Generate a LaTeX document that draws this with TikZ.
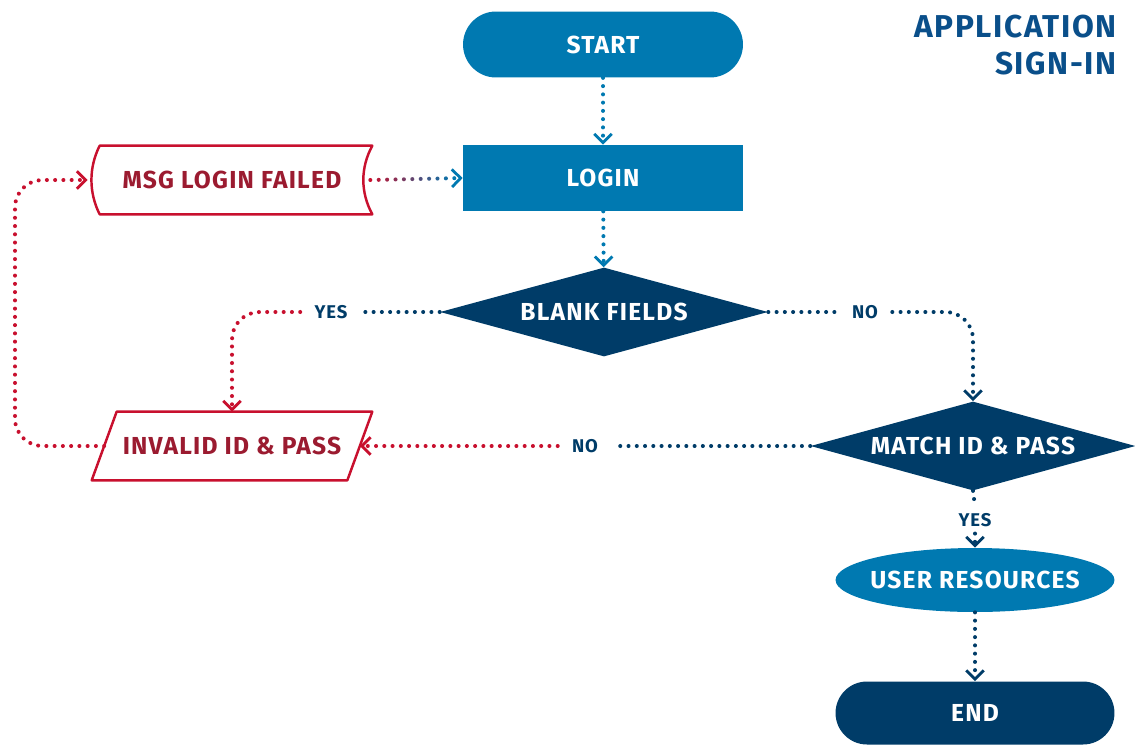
\documentclass[tikz,border=0pt]{standalone}
\usepackage{fontspec}
\setmainfont{Fira Sans}[LetterSpace=5]
\usetikzlibrary{shapes.geometric,shapes.misc,arrows.meta,calc}

\definecolor{midblue}{HTML}{0079B1}
\definecolor{navy}{HTML}{003C68}
\definecolor{failred}{HTML}{C8102E}
\definecolor{failtext}{HTML}{9B1B30}
\definecolor{titleblue}{HTML}{0A4F8A}

\tikzset{
  box/.style={minimum width=5.6cm, minimum height=1.32cm, inner sep=0pt,
    text=white, font=\bfseries\fontsize{14}{16}\selectfont},
  pill/.style={box, rounded rectangle, fill=#1},
  step box/.style={box, rectangle, fill=midblue},
  decide/.style={box, diamond, aspect=3.7, minimum width=6.56cm, minimum height=1.78cm, fill=navy},
  failbox/.style={box, text=failtext, minimum height=1.36cm},
  failline/.style={draw=failred, line width=1.4pt, line join=round},
  answer/.style={text=navy, inner xsep=0.28cm, inner ysep=0.13cm,
    font=\bfseries\fontsize{10.5}{12}\selectfont},
  dots/.style={line width=2.3pt, line cap=round, dash pattern=on 0pt off 4.7pt},
  dotline/.style={dots, -{Straight Barb[length=5pt, width=10pt, line width=1.6pt]}}
}

\begin{document}
\begin{tikzpicture}[x=0.02cm, y=0.02cm]
\useasboundingbox (0,0) rectangle (1135,-744);

% main column
\node[pill=midblue] (start) at (603,-44.5) {START};
\node[step box] (login) at (603,-178) {LOGIN};
\node[decide] (blank) at (604,-312) {BLANK FIELDS};

% failure side
\node[failbox, minimum width=5.44cm] (msg) at (232,-180) {MSG LOGIN FAILED};
\draw[failline] ([xshift=0.08cm]msg.north west) -- ([xshift=0.08cm]msg.north east)
  .. controls +(-12,-22) and +(-12,22) .. ([xshift=0.08cm]msg.south east)
  -- ([xshift=0.08cm]msg.south west)
  .. controls +(-11,22) and +(-11,-22) .. ([xshift=0.08cm]msg.north west) -- cycle;
\node[failbox] (inv) at (232,-446) {INVALID ID \& PASS};
\draw[failline] (inv.south west) -- ([xshift=0.5cm]inv.north west) -- (inv.north east)
  -- ([xshift=-0.5cm]inv.south east) -- cycle;

% match side
\node[decide, minimum width=6.5cm] (match) at (973,-446) {MATCH ID \& PASS};
\node[box, ellipse, inner xsep=-0.2cm, minimum width=5.58cm, minimum height=1.28cm, fill=midblue] (ures) at (975,-580) {USER RESOURCES};
\node[pill=navy, minimum width=5.58cm, minimum height=1.26cm] (finish) at (975,-713) {END};

% title
\node[anchor=north east, align=right, inner sep=0pt, text=titleblue,
  font=\bfseries\fontsize{18}{21}\selectfont] (title) at (1117,-15) {APPLICATION\\SIGN-IN};

% answer labels
\node[answer] (yesL) at (331,-312) {YES};
\node[answer] (noR) at (865,-312) {NO};
\node[answer] (noM) at (585,-446) {NO};
\node[answer] (yesD) at (975,-520) {YES};

% connectors
\draw[dotline, midblue] (start) -- (login);
\draw[dotline, midblue] (login) -- (blank);
\draw[dots, navy] (blank.west) -- (yesL.east);
\draw[dotline, failred, rounded corners=0.55cm] (yesL.west) -| (inv.north);
\draw[dots, navy] (blank.east) -- (noR.west);
\draw[dotline, navy, rounded corners=0.55cm] (noR.east) -| (match.north);
\draw[dots, navy] (match.west) -- (noM.east);
\draw[dotline, failred] (noM.west) -- ([xshift=-0.25cm]inv.east);
\draw[dots, navy] (match.south) -- (yesD.north);
\draw[dotline, navy] (yesD) -- (ures);
\draw[dotline, navy] (ures) -- (finish);

% back to the message
\coordinate (bend) at (15,-446);
\draw[dotline, failred, rounded corners=0.55cm] ([xshift=0.25cm]inv.west) -- (bend) |- ([xshift=-0.16cm]msg.west);

% message to login, red fading into blue
\coordinate (msgR) at ([xshift=0.04cm]msg.east);
\foreach \i in {0,...,10}{
  \pgfmathsetmacro{\p}{100-\i*10}
  \fill[failred!\p!midblue] ($(msgR)!\i/11!(login.west)$) circle (1.15pt);
}
\draw[midblue, -{Straight Barb[length=5pt, width=10pt, line width=1.6pt]}] ($(msgR)!0.98!(login.west)$) -- (login.west);
\end{tikzpicture}
\end{document}
